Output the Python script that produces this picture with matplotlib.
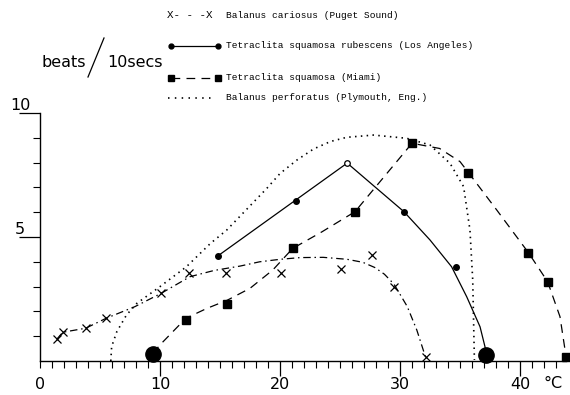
import matplotlib
matplotlib.use("Agg")
import matplotlib.pyplot as plt
from matplotlib.lines import Line2D

# ---- data: heart-beat rate (beats / 10 s) against temperature (deg C) ----

# Balanus cariosus (Puget Sound)
cariosus_temp = [1.4, 1.9, 3.8, 5.5, 10.1, 12.4, 15.5, 20.1, 25.1, 27.7, 29.5, 32.2]
cariosus_rate = [0.88, 1.16, 1.32, 1.72, 2.73, 3.53, 3.56, 3.56, 3.70, 4.27, 2.98, 0.17]
cariosus_fit_temp = [1.4, 1.9, 3.8, 5.5, 7.9, 10.1, 12.5, 14.5, 16.7, 18.3, 20.0, 21.7,
                     23.6, 25.6, 26.9, 27.9, 28.7, 29.5, 30.6, 31.4, 32.2]
cariosus_fit_rate = [0.88, 1.16, 1.32, 1.72, 2.19, 2.73, 3.40, 3.65, 3.83, 4.00, 4.10, 4.17,
                     4.18, 4.10, 3.98, 3.77, 3.50, 3.10, 2.20, 1.25, 0.05]

# Tetraclita squamosa rubescens (Los Angeles)
rubescens_temp = [14.8, 21.3, 30.3, 34.7]
rubescens_rate = [4.23, 6.45, 6.02, 3.80]
rubescens_peak = (25.6, 7.98)
rubescens_stop = (37.2, 0.25)
rubescens_fit_temp = [14.8, 25.6, 28.06, 30.33, 32.5, 34.3, 35.56, 36.67, 37.08, 37.2]
rubescens_fit_rate = [4.23, 7.98, 6.96, 6.02, 4.88, 3.80, 2.59, 1.38, 0.58, 0.25]

# Tetraclita squamosa (Miami)
miami_temp = [12.15, 15.6, 21.06, 26.25, 31.0, 35.7, 40.7, 42.3, 43.8]
miami_rate = [1.65, 2.30, 4.54, 6.02, 8.78, 7.60, 4.37, 3.20, 0.17]
miami_stop = (9.4, 0.3)
miami_fit_temp = [9.4, 10.0, 12.15, 13.9, 15.6, 17.5, 19.4, 21.06, 23.5, 26.25, 31.0,
                  33.3, 35.0, 35.7, 38.06, 40.7, 42.3, 43.33, 43.8]
miami_fit_rate = [0.3, 0.65, 1.72, 2.12, 2.45, 2.93, 3.67, 4.54, 5.21, 6.02, 8.78,
                  8.57, 8.04, 7.60, 6.09, 4.37, 3.20, 1.79, 0.3]

# Balanus perforatus (Plymouth, Eng.) - curve only
perforatus_temp = [5.9, 5.97, 6.4, 7.2, 8.06, 10.0, 12.2, 14.2, 15.56, 18.9, 20.0, 21.4,
                   22.8, 24.2, 25.56, 27.8, 30.56, 32.5, 34.17, 35.3, 35.83, 36.06, 36.2]
perforatus_rate = [0.0, 0.58, 1.18, 1.85, 2.32, 3.0, 3.8, 4.74, 5.28, 6.96, 7.56, 8.1,
                   8.55, 8.85, 9.02, 9.11, 8.98, 8.71, 7.97, 7.03, 5.28, 3.27, 0.04]

x_tick_labels = ["0", "10", "20", "30", "40"]
y_tick_labels = ["5", "10"]
legend_labels = ["Balanus cariosus (Puget Sound)",
                 "Tetraclita squamosa rubescens (Los Angeles)",
                 "Tetraclita squamosa (Miami)",
                 "Balanus perforatus (Plymouth, Eng.)"]

# ---- figure ----
W, H = 570, 395
fig = plt.figure(figsize=(W / 100, H / 100), dpi=100)
ax = fig.add_axes([0, 0, 1, 1])
ax.patch.set_visible(False)

PX_X = 12.0      # pixels per degree
PX_Y = 24.8      # pixels per beat
X0, Y0 = 40, 361
ax.set_xlim(-X0 / PX_X, (W - X0) / PX_X)
ax.set_ylim(-(H - Y0) / PX_Y, Y0 / PX_Y)

for side in ("top", "right"):
    ax.spines[side].set_visible(False)
ax.spines["left"].set_position(("data", 0))
ax.spines["bottom"].set_position(("data", 0))
ax.spines["left"].set_bounds(0, 10)
ax.spines["bottom"].set_bounds(0, 43.8)
for side in ("left", "bottom"):
    ax.spines[side].set_linewidth(1.0)

ax.set_xticks([10, 20, 30, 40])
ax.set_xticks(list(range(0, 44)), minor=True)
ax.set_yticks([5, 10])
ax.set_yticks(list(range(1, 10)), minor=True)
ax.tick_params(axis="x", which="major", direction="out", length=10.5, width=0.9,
               labelbottom=False)
ax.tick_params(axis="x", which="minor", direction="out", length=5, width=0.8)
ax.tick_params(axis="y", which="major", direction="out", length=15, width=0.9,
               labelleft=False)
ax.tick_params(axis="y", which="minor", direction="out", length=5, width=0.8)

hand = dict(family=["DejaVu Sans"], fontsize=11.5, color="black")
for lbl in x_tick_labels:
    ax.annotate(lbl, (float(lbl), 0), xytext=(0, -16), textcoords="offset pixels",
                ha="center", va="top", **hand)
ax.annotate("°C", (42.75, 0), xytext=(0, -15), textcoords="offset pixels",
            ha="center", va="top", **hand)
for lbl in y_tick_labels:
    ax.annotate(lbl, (0, float(lbl)), xytext=(-20, 0), textcoords="offset pixels",
                ha="center", va="bottom", **hand)

# y-axis unit label
ax.annotate("beats", (0, 10), xytext=(46, 46), textcoords="offset pixels",
            ha="right", va="baseline", **hand)
ax.annotate("10secs", (0, 10), xytext=(67, 46), textcoords="offset pixels",
            ha="left", va="baseline", **hand)
fig.add_artist(Line2D([88 / W, 104 / W], [1 - 77 / H, 1 - 38 / H],
                      transform=fig.transFigure, color="black", lw=0.9))

# ---- series ----
lw = 0.9
ax.plot(cariosus_fit_temp, cariosus_fit_rate, color="black", lw=lw,
        linestyle=(0, (6, 3, 1.2, 3)))
ax.plot(cariosus_temp, cariosus_rate, linestyle="none", marker="x", ms=6,
        mew=0.9, color="black")

ax.plot(rubescens_fit_temp, rubescens_fit_rate, color="black", lw=lw)
ax.plot(rubescens_temp, rubescens_rate, linestyle="none", marker="o", ms=4,
        color="black")
ax.plot(*rubescens_peak, marker="o", ms=4, mfc="white", mec="black", mew=0.9)
ax.plot(*rubescens_stop, marker="o", ms=11, color="black")

ax.plot(miami_fit_temp, miami_fit_rate, color="black", lw=lw,
        linestyle=(0, (7, 5)))
ax.plot(miami_temp, miami_rate, linestyle="none", marker="s", ms=5.5,
        color="black", clip_on=False)
ax.plot(*miami_stop, marker="o", ms=11, color="black")

ax.plot(perforatus_temp, perforatus_rate, color="black", lw=1.2,
        linestyle=(0, (0.9, 2.6)))

# ---- legend ----
mono = dict(family=["Liberation Mono", "DejaVu Sans Mono"], fontsize=6.8,
            color="black", va="center", ha="left")
rows_y = [15, 46, 78, 98]
tx = 226


def fx(px):
    return px / W


def fy(py):
    return 1 - py / H


fig.text(fx(167), fy(rows_y[0]), "X- - -X", **{**mono, "fontsize": 7.8})
fig.add_artist(Line2D([fx(171), fx(218)], [fy(rows_y[1])] * 2,
                      transform=fig.transFigure, color="black", lw=0.9,
                      marker="o", ms=3.5, markevery=[0, 1]))
fig.add_artist(Line2D([fx(171), fx(218)], [fy(rows_y[2])] * 2,
                      transform=fig.transFigure, color="black", lw=0.9,
                      linestyle=(0, (7, 5)), marker="s", ms=4.5,
                      markevery=[0, 1]))
fig.add_artist(Line2D([fx(168), fx(214)], [fy(rows_y[3])] * 2,
                      transform=fig.transFigure, color="black", lw=1.2,
                      linestyle=(0, (0.9, 3.2))))
for lbl, y in zip(legend_labels, rows_y):
    fig.text(fx(tx), fy(y), lbl, **mono)

fig.savefig("out.png", dpi=100, facecolor="white")
